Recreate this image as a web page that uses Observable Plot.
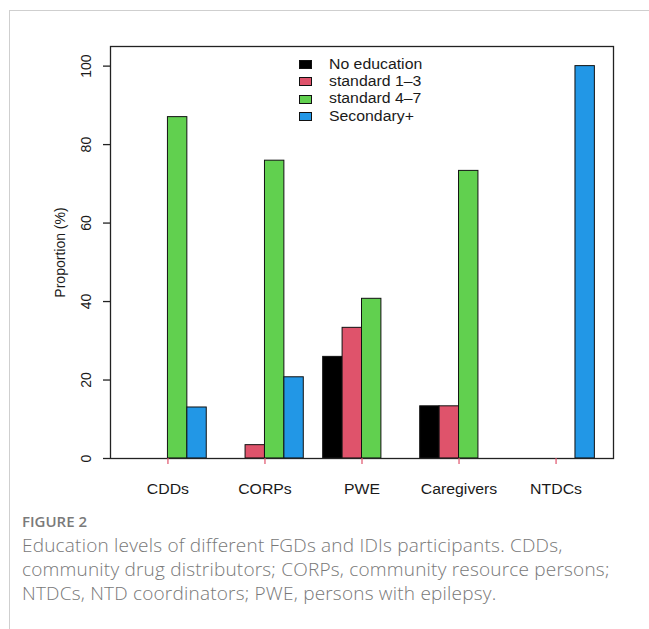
<!DOCTYPE html>
<html>
<head>
<meta charset="utf-8">
<script src="https://cdn.jsdelivr.net/npm/d3@7"></script>
<script src="https://cdn.jsdelivr.net/npm/@observablehq/plot@0.6"></script>
<style>
  html, body { margin: 0; padding: 0; background: #fff; }
  body { width: 649px; height: 629px; position: relative; overflow: hidden; font-family: "Liberation Sans", Arial, sans-serif; }
  #border { position: absolute; left: 9px; top: 10px; width: 700px; height: 700px; border-left: 1px solid #cfcfcf; border-top: 1px solid #cfcfcf; }
  #chart { position: absolute; left: 0; top: 0; }
  #legend { position: absolute; left: 299px; top: 55.5px; }
  .lrow { position: relative; height: 17.4px; }
  .lsw { position: absolute; left: 0; top: 4.5px; width: 11px; height: 7px; border: 1px solid #111; }
  .ltx { position: absolute; left: 30px; top: 0; font-size: 14px; line-height: 17px; color: #1a1a1a; white-space: nowrap; transform: scaleX(1.13); transform-origin: left center; }
  #caption { position: absolute; left: 22px; top: 511px; font-family: "Open Sans", Lato, sans-serif; color: #787878; }
  #fig { font-size: 15px; font-weight: 600; line-height: 20px; color: #7a7a7a; margin-bottom: 2px; }
  .cl { font-size: 19px; line-height: 24px; white-space: nowrap; font-weight: 300; letter-spacing: 0.2px; }
</style>
</head>
<body>
<div id="border"></div>
<div id="chart"></div>
<div id="legend"></div>
<div id="caption">
  <div id="fig">FIGURE 2</div>
  <div class="cl">Education levels of different FGDs and IDIs participants. CDDs,</div>
  <div class="cl">community drug distributors; CORPs, community resource persons;</div>
  <div class="cl">NTDCs, NTD coordinators; PWE, persons with epilepsy.</div>
</div>
<script>
// ---- data ----
const groups = ["CDDs", "CORPs", "PWE", "Caregivers", "NTDCs"];
const levels = ["No education", "standard 1\u20133", "standard 4\u20137", "Secondary+"];
const noEducation = [0, 0, 25.9, 13.3, 0];
const standard1to3 = [0, 3.4, 33.3, 13.3, 0];
const standard4to7 = [87.0, 75.9, 40.7, 73.3, 0];
const secondaryPlus = [13.0, 20.7, 0, 0, 100];
const levelColors = ["#000000", "#DF536B", "#61D04F", "#2297E6"];
const yTicks = [0, 20, 40, 60, 80, 100];
const yLabel = "Proportion (%)";

// ---- table (R barplot layout: groups of 4 unit-wide bars, 1 unit gap) ----
const series = [noEducation, standard1to3, standard4to7, secondaryPlus];
const rows = [];
groups.forEach((g, gi) => {
  levels.forEach((l, li) => {
    const x1 = gi * 5 + 1 + li;
    rows.push({group: g, level: l, value: series[li][gi], x1, x2: x1 + 1});
  });
});
const groupCenters = groups.map((g, gi) => gi * 5 + 3);

const W = 649, H = 510;
const chart = Plot.plot({
  width: W,
  height: H,
  marginLeft: 110,
  marginRight: 36,
  marginTop: 46,
  marginBottom: H - 458,
  style: {fontFamily: "'Liberation Sans', Arial, sans-serif", fontSize: "14px", color: "#1a1a1a", background: "transparent"},
  x: {domain: [0.04, 25.96]},
  y: {domain: [0, 105]},
  color: {domain: levels, range: levelColors},
  marks: [
    Plot.rectY(rows, {x1: "x1", x2: "x2", y: "value", fill: "level", stroke: "#111", strokeWidth: 1}),
    Plot.frame({stroke: "#222", strokeWidth: 1.3}),
    Plot.axisY(yTicks, {tickSize: 7, tickRotate: -90, tickPadding: 13, label: null, stroke: "#222", strokeWidth: 1.3, fontSize: 14}),
    Plot.axisX(groupCenters, {tickSize: 6, stroke: "#DF536B", strokeWidth: 1.2, tickPadding: 20, label: null, tickFormat: (d, i) => groups[i], fontSize: 14, fill: "#1a1a1a"}),
    Plot.text([yLabel], {frameAnchor: "left", textAnchor: "middle", rotate: -90, dx: -50, fontSize: 14, fill: "#1a1a1a"})
  ]
});
document.getElementById("chart").appendChild(chart);

// horizontal stretch of x tick labels to mimic the reference raster
chart.querySelectorAll("g[aria-label='x-axis tick label'] text").forEach(t => {
  const len = t.getComputedTextLength();
  t.setAttribute("textLength", (len * 1.13).toFixed(1));
  t.setAttribute("lengthAdjust", "spacingAndGlyphs");
});

// legend (R legend "top", bty = "n")
const legend = document.getElementById("legend");
levels.forEach((l, i) => {
  const row = document.createElement("div");
  row.className = "lrow";
  const sw = document.createElement("div");
  sw.className = "lsw";
  sw.style.background = levelColors[i];
  const tx = document.createElement("div");
  tx.className = "ltx";
  tx.textContent = l;
  row.appendChild(sw);
  row.appendChild(tx);
  legend.appendChild(row);
});
</script>
</body>
</html>
